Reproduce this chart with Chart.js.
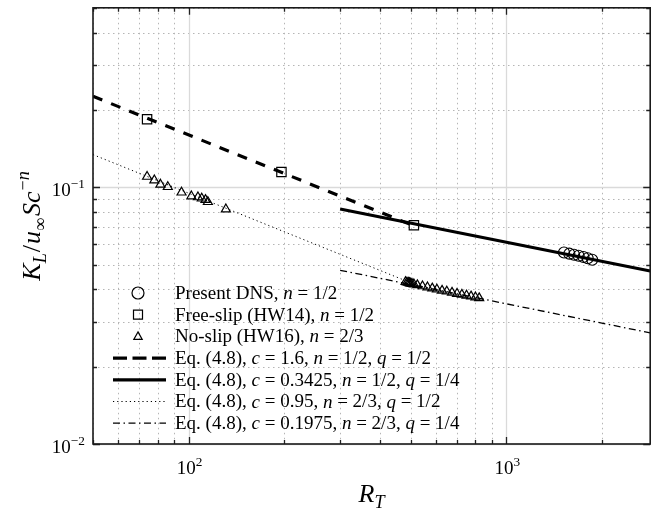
<!DOCTYPE html>
<html>
<head>
<meta charset="utf-8">
<script src="https://cdn.jsdelivr.net/npm/chart.js@4.4.0/dist/chart.umd.min.js"></script>
<style>
  html, body { margin: 0; padding: 0; background: #fff; }
  canvas { display: block; }
</style>
</head>
<body>
<canvas id="chart" width="658" height="511"></canvas>
<script>
// data (R_T vs K_L / u Sc^-n)
const dnsRT = [1520, 1580, 1635, 1690, 1750, 1805, 1865];
const dnsK = [0.0557, 0.0551, 0.0546, 0.0541, 0.0535, 0.0529, 0.0522];

const freeRT = [74, 196, 512];
const freeK = [0.184, 0.1147, 0.0711];

const noSlipRT = [74, 78, 81.5, 86, 95, 102, 107, 110, 113, 115, 131,
  482, 487, 492, 496, 500, 505, 512, 525, 545, 565, 585, 605, 628, 650, 675, 700, 725, 750, 775, 800, 822];
const noSlipK = [0.110, 0.1065, 0.1025, 0.1003, 0.0955, 0.0923, 0.0915, 0.0905, 0.0893, 0.0877, 0.0821,
  0.0428, 0.0426, 0.0425, 0.0424, 0.0422, 0.0421, 0.0419, 0.0416, 0.0412, 0.0408, 0.0404, 0.0400, 0.0396, 0.0393, 0.0389, 0.0385, 0.0382, 0.0379, 0.0376, 0.0373, 0.0370];

// Eq. (4.8) fits, end points
const dashRT = [50, 500];
const dashK = [0.226, 0.0716];
const solidRT = [300, 2840];
const solidK = [0.0823, 0.0472];
const dotRT = [50, 490];
const dotK = [0.134, 0.0429];
const dashDotRT = [300, 2840];
const dashDotK = [0.0475, 0.0271];

const xTicks = [100, 1000];
const yTicks = [0.01, 0.1];
const xTickExp = ['2', '3'];
const yTickExp = ['\u22122', '\u22121'];

const SERIF = '"Liberation Serif", "Times New Roman", serif';

const pts = (xs, ys) => xs.map((x, i) => ({ x, y: ys[i] }));
const isMajor = v => Math.abs(Math.log10(v) - Math.round(Math.log10(v))) < 1e-6;
const isNice = v => {
  const e = Math.floor(Math.log10(v) + 1e-9);
  const m = v / Math.pow(10, e);
  return Math.abs(m - Math.round(m)) < 1e-6;
};

function richWidth(ctx, parts, size) {
  let w = 0;
  parts.forEach(p => {
    ctx.font = (p.i ? 'italic ' : '') + (size * (p.s || 1)) + 'px ' + SERIF;
    w += ctx.measureText(p.t).width + (p.gap || 0);
  });
  return w;
}
function drawRich(ctx, parts, x, y, size) {
  let cx = x;
  parts.forEach(p => {
    ctx.font = (p.i ? 'italic ' : '') + (size * (p.s || 1)) + 'px ' + SERIF;
    ctx.fillText(p.t, cx, y + (p.dy || 0));
    cx += ctx.measureText(p.t).width + (p.gap || 0);
  });
}

const gridPlugin = {
  id: 'gridPlugin',
  beforeDatasetsDraw(chart) {
    const { ctx, chartArea: a, scales: { x, y } } = chart;
    ctx.save();
    const lines = [];
    x.ticks.forEach(t => { if (isNice(t.value)) lines.push(['x', t.value]); });
    y.ticks.forEach(t => { if (isNice(t.value)) lines.push(['y', t.value]); });
    // minor first, majors on top
    lines.sort((p, q) => isMajor(p[1]) - isMajor(q[1]));
    lines.forEach(([ax, v]) => {
      const maj = isMajor(v);
      ctx.strokeStyle = maj ? '#dadada' : '#b5b5b5';
      ctx.lineWidth = maj ? 1.3 : 1;
      ctx.setLineDash(maj ? [] : [1.5, 3.5]);
      ctx.beginPath();
      if (ax === 'x') {
        const px = Math.round(x.getPixelForValue(v)) + 0.5;
        ctx.moveTo(px, a.top); ctx.lineTo(px, a.bottom);
      } else {
        const py = Math.round(y.getPixelForValue(v)) + 0.5;
        ctx.moveTo(a.left, py); ctx.lineTo(a.right, py);
      }
      ctx.stroke();
    });
    ctx.restore();
  },
  afterDatasetsDraw(chart) {
    const { ctx, chartArea: a, scales: { x, y } } = chart;
    ctx.save();
    ctx.strokeStyle = '#222';
    ctx.lineWidth = 1.3;
    ctx.setLineDash([]);
    x.ticks.forEach(t => {
      if (!isNice(t.value)) return;
      const len = isMajor(t.value) ? 7 : 4;
      const px = Math.round(x.getPixelForValue(t.value)) + 0.5;
      ctx.beginPath();
      ctx.moveTo(px, a.bottom); ctx.lineTo(px, a.bottom - len);
      ctx.moveTo(px, a.top); ctx.lineTo(px, a.top + len);
      ctx.stroke();
    });
    y.ticks.forEach(t => {
      if (!isNice(t.value)) return;
      const len = isMajor(t.value) ? 7 : 4;
      const py = Math.round(y.getPixelForValue(t.value)) + 0.5;
      ctx.beginPath();
      ctx.moveTo(a.left, py); ctx.lineTo(a.left + len, py);
      ctx.moveTo(a.right, py); ctx.lineTo(a.right - len, py);
      ctx.stroke();
    });
    // axes box
    ctx.strokeStyle = '#1a1a1a';
    ctx.lineWidth = 1.6;
    ctx.strokeRect(a.left, a.top, a.right - a.left, a.bottom - a.top);

    // tick labels
    ctx.fillStyle = '#000';
    ctx.textBaseline = 'alphabetic';
    xTicks.forEach((v, i) => {
      const parts = [{ t: '10' }, { t: xTickExp[i], s: 0.7, dy: -8 }];
      const w = richWidth(ctx, parts, 19);
      drawRich(ctx, parts, x.getPixelForValue(v) - w / 2 + 1, a.bottom + 30, 19);
    });
    yTicks.forEach((v, i) => {
      const parts = [{ t: '10' }, { t: yTickExp[i], s: 0.7, dy: -8 }];
      const w = richWidth(ctx, parts, 19);
      drawRich(ctx, parts, 85 - w, y.getPixelForValue(v) + 9, 19);
    });

    // axis titles
    const xt = [{ t: 'R', i: true }, { t: 'T', i: true, s: 0.7, dy: 6 }];
    const xw = richWidth(ctx, xt, 26);
    drawRich(ctx, xt, (a.left + a.right) / 2 - xw / 2, 502, 26);

    const yt = [{ t: 'K', i: true }, { t: 'L', i: true, s: 0.7, dy: 6, gap: 1 }, { t: '/', gap: 1 },
      { t: 'u', i: true }, { t: '\u221E', s: 0.7, dy: 6, gap: 2 }, { t: 'Sc', i: true, gap: 1 },
      { t: '\u2212', s: 0.7, dy: -11 }, { t: 'n', i: true, s: 0.7, dy: -11 }];
    const yw = richWidth(ctx, yt, 26);
    ctx.translate(40, (a.top + a.bottom) / 2);
    ctx.rotate(-Math.PI / 2);
    drawRich(ctx, yt, -yw / 2, 0, 26);
    ctx.restore();
  }
};

const legendRows = [
  { kind: 'circle', parts: [{ t: 'Present DNS, ' }, { t: 'n', i: true }, { t: ' = 1/2' }] },
  { kind: 'rect', parts: [{ t: 'Free-slip (HW14), ' }, { t: 'n', i: true }, { t: ' = 1/2' }] },
  { kind: 'triangle', parts: [{ t: 'No-slip (HW16), ' }, { t: 'n', i: true }, { t: ' = 2/3' }] },
  { kind: 'dash', parts: [{ t: 'Eq. (4.8), ' }, { t: 'c', i: true }, { t: ' = 1.6, ' }, { t: 'n', i: true }, { t: ' = 1/2, ' }, { t: 'q', i: true }, { t: ' = 1/2' }] },
  { kind: 'solid', parts: [{ t: 'Eq. (4.8), ' }, { t: 'c', i: true }, { t: ' = 0.3425, ' }, { t: 'n', i: true }, { t: ' = 1/2, ' }, { t: 'q', i: true }, { t: ' = 1/4' }] },
  { kind: 'dot', parts: [{ t: 'Eq. (4.8), ' }, { t: 'c', i: true }, { t: ' = 0.95, ' }, { t: 'n', i: true }, { t: ' = 2/3, ' }, { t: 'q', i: true }, { t: ' = 1/2' }] },
  { kind: 'dashdot', parts: [{ t: 'Eq. (4.8), ' }, { t: 'c', i: true }, { t: ' = 0.1975, ' }, { t: 'n', i: true }, { t: ' = 2/3, ' }, { t: 'q', i: true }, { t: ' = 1/4' }] }
];

const legendPlugin = {
  id: 'legendPlugin',
  afterDraw(chart) {
    const ctx = chart.ctx;
    ctx.save();
    ctx.fillStyle = '#000';
    ctx.strokeStyle = '#000';
    ctx.textBaseline = 'middle';
    legendRows.forEach((row, i) => {
      const cy = 293 + i * 21.7;
      ctx.setLineDash([]);
      ctx.beginPath();
      if (row.kind === 'circle') {
        ctx.lineWidth = 1.2;
        ctx.arc(138, cy, 6, 0, Math.PI * 2);
      } else if (row.kind === 'rect') {
        ctx.lineWidth = 1.2;
        ctx.rect(133.5, cy - 4.5, 9, 9);
      } else if (row.kind === 'triangle') {
        ctx.lineWidth = 1.2;
        ctx.moveTo(138, cy - 4.5); ctx.lineTo(142.2, cy + 3); ctx.lineTo(133.8, cy + 3); ctx.closePath();
      } else {
        const st = {
          dash: [3.2, [14, 5.5]], solid: [3.2, []], dot: [1, [1.2, 3]], dashdot: [1.3, [7, 3.5, 1.5, 3.5]]
        }[row.kind];
        ctx.lineWidth = st[0];
        ctx.setLineDash(st[1]);
        ctx.moveTo(113, cy); ctx.lineTo(166, cy);
      }
      ctx.stroke();
      drawRich(ctx, row.parts, 175, cy + 1, 19);
    });
    ctx.restore();
  }
};

const markerStyle = {
  showLine: false,
  pointBackgroundColor: 'rgba(0,0,0,0)',
  pointBorderColor: '#000',
  pointBorderWidth: 1.2
};

new Chart(document.getElementById('chart').getContext('2d'), {
  type: 'scatter',
  data: {
    datasets: [
      { label: 'Present DNS', data: pts(dnsRT, dnsK), pointStyle: 'circle', pointRadius: 5.5, ...markerStyle },
      { label: 'Free-slip (HW14)', data: pts(freeRT, freeK), pointStyle: 'rect', pointRadius: 6.6, ...markerStyle },
      { label: 'No-slip (HW16)', data: pts(noSlipRT, noSlipK), pointStyle: 'triangle', pointRadius: 5.2, ...markerStyle },
      { label: 'c=1.6', data: pts(dashRT, dashK), showLine: true, pointRadius: 0, borderColor: '#000', borderWidth: 3.2, borderDash: [10, 9.5] },
      { label: 'c=0.3425', data: pts(solidRT, solidK), showLine: true, pointRadius: 0, borderColor: '#000', borderWidth: 3.2 },
      { label: 'c=0.95', data: pts(dotRT, dotK), showLine: true, pointRadius: 0, borderColor: '#000', borderWidth: 1, borderDash: [1.2, 3] },
      { label: 'c=0.1975', data: pts(dashDotRT, dashDotK), showLine: true, pointRadius: 0, borderColor: '#000', borderWidth: 1.3, borderDash: [7, 3.5, 1.5, 3.5] }
    ]
  },
  options: {
    responsive: false,
    animation: false,
    devicePixelRatio: 1,
    layout: { padding: { left: 93, top: 6, right: 0, bottom: 67 } },
    plugins: { legend: { display: false }, tooltip: { enabled: false } },
    scales: {
      x: {
        type: 'logarithmic', min: 50, max: 2840,
        ticks: { display: false }, grid: { display: false }, border: { display: false },
        afterFit: s => { s.height = 0; }
      },
      y: {
        type: 'logarithmic', min: 0.01, max: 0.5,
        ticks: { display: false }, grid: { display: false }, border: { display: false },
        afterFit: s => { s.width = 0; }
      }
    }
  },
  plugins: [gridPlugin, legendPlugin]
});
</script>
</body>
</html>
